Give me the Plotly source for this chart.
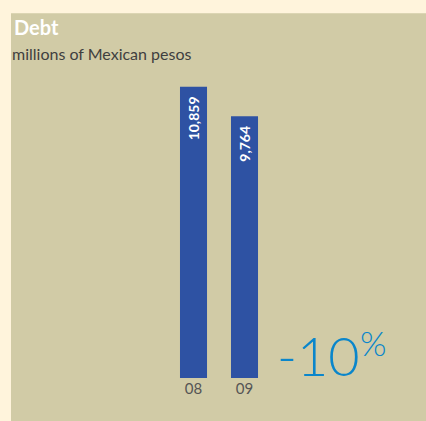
import plotly.graph_objects as go

categories = ["08", "09"]
values = [10859, 9764]
value_labels = ["10,859", "9,764"]
change_label = "-10"
change_unit = "%"
title = "Debt"
subtitle = "millions of Mexican pesos"

W, H = 426, 421
x_pos = list(range(len(categories)))
PX_PER_UNIT = 0.02681  # vertical pixels per million pesos

fig = go.Figure()
fig.add_trace(go.Bar(
    x=x_pos, y=values, width=0.53,
    marker=dict(color="#2E52A3", line=dict(width=0)),
    hoverinfo="skip",
))

bottom_frac = (H - 378) / H
fig.update_layout(
    width=W, height=H,
    margin=dict(l=0, r=0, t=0, b=0),
    paper_bgcolor="#FFF4DC", plot_bgcolor="rgba(0,0,0,0)",
    showlegend=False,
    xaxis=dict(range=[-193.5 / 51, (W - 193.5) / 51], tickmode="array",
               tickvals=x_pos, ticktext=categories, showgrid=False,
               zeroline=False, showline=False, ticks="",
               tickfont=dict(family="Lato", size=15, color="#555555")),
    yaxis=dict(range=[0, 378 / PX_PER_UNIT], domain=[bottom_frac, 1],
               visible=False),
    font=dict(family="Lato"),
)

top_paper = (378 - 12) / 378
fig.add_shape(type="rect", xref="paper", yref="paper",
              x0=11 / W, x1=1.0, y0=-1, y1=top_paper,
              fillcolor="#D1CBA6", line=dict(width=0), layer="below")

for xi, v, lab in zip(x_pos, values, value_labels):
    fig.add_annotation(xref="x", yref="y", x=xi, y=v, text="<b>" + lab + "</b>",
                       showarrow=False, textangle=-90,
                       xanchor="center", yanchor="top", yshift=-8,
                       font=dict(family="Lato", size=14, color="white"))

fig.add_annotation(xref="paper", yref="paper", x=12 / W, y=top_paper,
                   text="<b>" + title + "</b>", showarrow=False,
                   xanchor="left", yanchor="top",
                   font=dict(family="Lato", size=20, color="white"))
fig.add_annotation(xref="paper", yref="paper", x=10 / W, y=(378 - 38) / 378,
                   text=subtitle, showarrow=False,
                   xanchor="left", yanchor="top",
                   font=dict(family="Lato", size=16, color="#3F3F3F"))
fig.add_annotation(xref="x", yref="y", x=x_pos[-1], y=0, xshift=32,
                   text=change_label, showarrow=False, borderpad=0, borderwidth=0,
                   xanchor="left", yanchor="bottom", yshift=-10,
                   font=dict(family="Lato", size=54, color="#0A86CB", weight=300))
fig.add_annotation(xref="x", yref="y", x=x_pos[-1], y=0, xshift=115,
                   text=change_unit, showarrow=False, borderpad=0, borderwidth=0,
                   xanchor="left", yanchor="bottom", yshift=15,
                   font=dict(family="Lato", size=34, color="#0A86CB", weight=300))

fig.write_html("out.html")
